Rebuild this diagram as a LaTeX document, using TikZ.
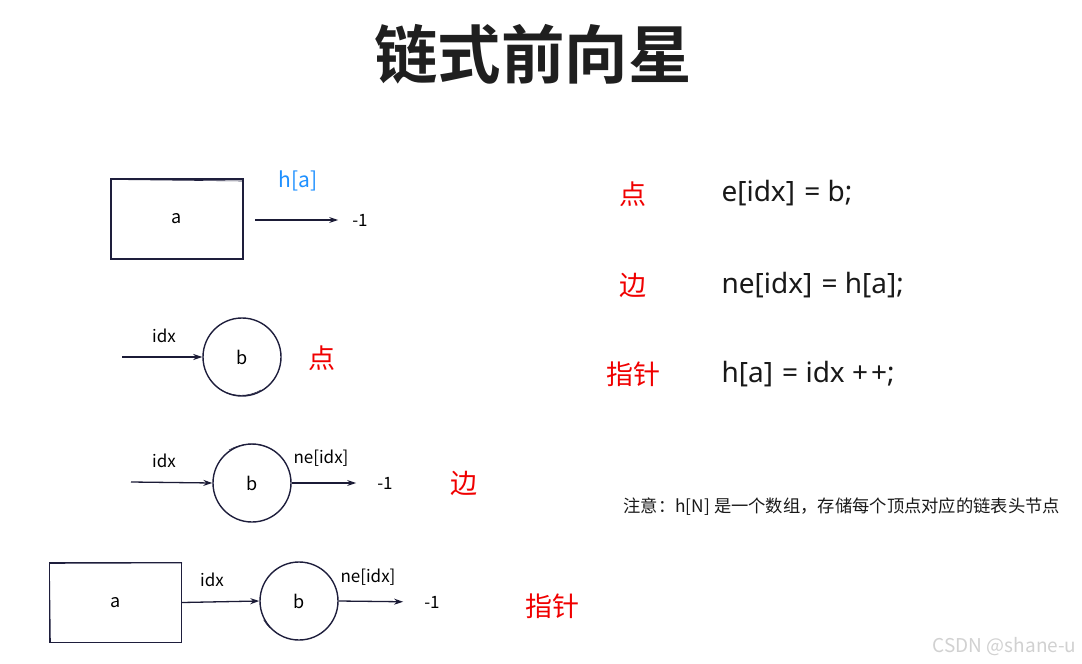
\documentclass[tikz,border=0pt]{standalone}
\usepackage{fontspec}
\setmainfont{Noto Sans CJK SC}
\newfontfamily\cjkbold[BoldFont={* Bold}]{Noto Sans CJK SC}
\newfontfamily\latinfont{Noto Sans}
\usetikzlibrary{arrows.meta}
\definecolor{ink}{HTML}{1E1E3C}
\definecolor{hblue}{HTML}{1E90FF}
\definecolor{redtxt}{HTML}{F00000}
\tikzset{
  sketch/.style={draw=ink, line width=1.4pt},
  boxnode/.style={sketch, minimum width=132pt, minimum height=80pt, inner sep=0pt, font=\fontsize{18}{20}\selectfont},
  circnode/.style={sketch, circle, minimum size=78pt, inner sep=0pt, font=\fontsize{18}{20}\selectfont},
  lbl/.style={font=\fontsize{17}{19}\selectfont, inner sep=1pt},
  arr/.style={draw=ink!90!black, line width=1.3pt, -{Stealth[length=9pt,width=6pt]}},
  bigred/.style={text=redtxt, font=\fontsize{27}{30}\selectfont},
  code/.style={anchor=west, font=\latinfont\fontsize{28}{30}\selectfont, text=black!90},
}
\begin{document}
\begin{tikzpicture}[x=1pt,y=-1pt]
\useasboundingbox (0,0) rectangle (1082,664);
\fill[white] (0,0) rectangle (1082,664);
% title
\node[font=\cjkbold\bfseries\fontsize{63.5}{66}\selectfont, text=black!88] (title) at (533,54) {链式前向星};

% row 1
\node[boxnode] (a1) at (177,219) {a};
\draw[ink, line width=0.6pt] (110.5,182) -- (111.5,259) (111,179.5) -- (243,181);
\coordinate (s1) at (255,220);
\node[lbl] (m1) at (360,220) {-1};
\draw[arr, shorten >=13pt] (s1) -- (m1.west);
\node[font=\fontsize{21}{23}\selectfont, text=hblue] (ha) at (298,181) {h[a]};

% row 2
\node[circnode] (b2) at (242,357) {b};
\draw[ink, line width=0.6pt] (221,390) arc[start angle=120, end angle=60, radius=40];
\coordinate (s2) at (122,357);
\node[lbl] (i2) at (164,336) {idx};
\draw[arr] (s2) -- (b2.west);
\node[bigred] (p2) at (322,358) {点};

% row 3
\node[circnode] (b3) at (252,483) {b};
\draw[ink, line width=0.6pt] (229,450) arc[start angle=240, end angle=300, radius=44];
\coordinate (s3) at (131,482);
\node[lbl] (i3) at (164,461) {idx};
\draw[arr] (s3) -- (b3.west);
\node[lbl] (n3) at (321,458) {ne[idx]};
\node[lbl] (m3) at (385,483) {-1};
\draw[arr, shorten >=20pt] (b3.east) -- (m3.west);
\node[bigred] (e3) at (464,483) {边};

% row 4
\node[boxnode] (a4) at (115.5,602.5) {a};
\draw[ink, line width=0.6pt] (49.5,566) -- (50.5,642) (50,563.5) -- (182,563);
\node[circnode] (b4) at (299,601) {b};
\draw[ink, line width=0.6pt] (270,628) arc[start angle=135, end angle=150, radius=40];
\node[lbl] (i4) at (212,580) {idx};
\draw[arr] (a4.east) -- (b4.west);
\node[lbl] (n4) at (368,577) {ne[idx]};
\node[lbl] (m4) at (432,602) {-1};
\draw[arr, shorten >=20pt] (b4.east) -- (m4.west);
\node[bigred] (z4) at (552,606) {指针};

% right column
\node[bigred] (r1) at (633,194) {点};
\node[code] (c1) at (718,193) {e[idx]\kern2pt{} = b;};
\node[bigred] (r2) at (633,285) {边};
\node[code] (c2) at (718,285) {ne[idx]\kern2pt{} = h[a];};
\node[bigred] (r3) at (633,374) {指针};
\node[code] (c3) at (718,374) {h[a]\kern2pt{} = idx +\kern3pt+;};

\node[anchor=west, font=\fontsize{17.3}{19}\selectfont, text=black!90] (note) at (620,507) {注意：h[N] 是一个数组，存储每个顶点对应的链表头节点};

\node[anchor=east, font=\fontsize{19}{21}\selectfont, text=black!18] (wm) at (1080,647) {CSDN @shane-u};
\end{tikzpicture}
\end{document}
